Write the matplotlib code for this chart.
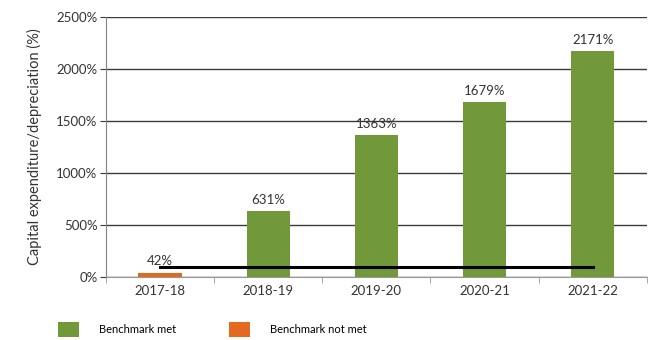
# capital expenditure vs depreciation ratio, by year
# saved to out.png

import matplotlib.pyplot as plt
from matplotlib.patches import Patch
from matplotlib.ticker import FuncFormatter

plt.rcParams['font.family'] = ['Lato', 'DejaVu Sans']

years = ['2017-18', '2018-19', '2019-20', '2020-21', '2021-22']
ratio = [42, 631, 1363, 1679, 2171]
benchmark = 100

green = '#71993a'
orange = '#e2691f'
bar_color = [orange if v < benchmark else green for v in ratio]

fig = plt.figure(figsize=(6.62, 3.4), dpi=100)
ax = fig.add_axes([0.160, 0.185, 0.817, 0.765])

x = list(range(len(years)))
ax.bar(x, ratio, width=0.4, color=bar_color, zorder=2)

# benchmark line runs from first to last category centre
ax.plot([x[0], x[-1]], [benchmark, benchmark], color='black', lw=2.2, zorder=3)

for xi, v in zip(x, ratio):
    ax.text(xi, v + 55, f'{v}%', ha='center', va='bottom', fontsize=9.5,
            color='#333333')

ax.set_xlim(-0.5, len(years) - 0.5)
ax.set_ylim(0, 2500)
ax.set_yticks(range(0, 2501, 500))
ax.yaxis.set_major_formatter(FuncFormatter(lambda v, p: f'{int(v)}%'))
ax.set_xticks(x)
ax.set_xticklabels(years)
ax.set_xticks([i + 0.5 for i in range(-1, len(years))], minor=True)

ax.grid(axis='y', color='#3a3a3a', lw=1, zorder=0)
ax.tick_params(axis='y', length=4, color='#3a3a3a', labelsize=9.5,
               labelcolor='#333333', pad=2)
ax.tick_params(axis='x', which='major', length=0, labelsize=9.5,
               labelcolor='#333333', pad=6)
ax.tick_params(axis='x', which='minor', length=4, color='#999999')

for side in ['top', 'right']:
    ax.spines[side].set_visible(False)
ax.spines['left'].set_color('#8a7f7a')
ax.spines['bottom'].set_color('#999999')

ax.set_ylabel('Capital expenditure/depreciation (%)', fontsize=10.5,
              color='#333333', labelpad=10)

handles = [Patch(facecolor=green, label='Benchmark met'),
           Patch(facecolor=orange, label='Benchmark not met')]
fig.legend(handles=handles, loc='lower left', bbox_to_anchor=(0.072, -0.02),
           ncol=2, frameon=False, fontsize=8, handlelength=1.9,
           handleheight=1.7, handletextpad=1.8, columnspacing=4.8)

fig.savefig('out.png', dpi=100)
